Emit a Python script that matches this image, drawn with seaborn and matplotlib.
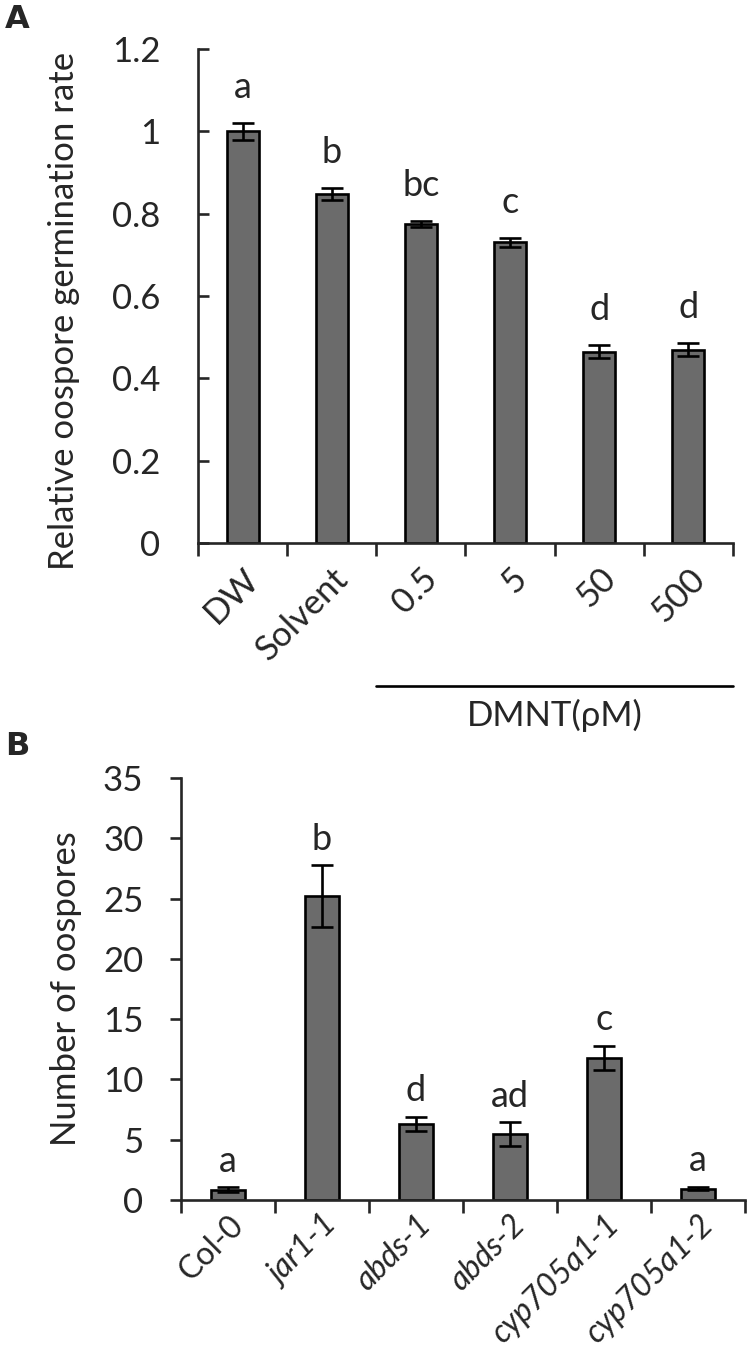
import numpy as np
import pandas as pd
import matplotlib.pyplot as plt
import matplotlib.transforms as mtrans
import seaborn as sns

sns.set_style("ticks")
plt.rcParams["font.family"] = ["Lato", "DejaVu Sans"]
plt.rcParams["axes.linewidth"] = 1.9

# ── Dados ────────────────────────────────────────────────────────────────────
# Painel A: taxa relativa de germinação dos oósporos
trat = ["DW", "Solvent", "0.5", "5", "50", "500"]
taxa = [1.0, 0.848, 0.775, 0.73, 0.465, 0.47]
erro_taxa = [0.021, 0.015, 0.008, 0.012, 0.016, 0.016]
letras_a = ["a", "b", "bc", "c", "d", "d"]

# Painel B: número de oósporos por linhagem
linhagens = ["Col-0", "jar1-1", "abds-1", "abds-2", "cyp705a1-1", "cyp705a1-2"]
oosporos = [0.85, 25.2, 6.3, 5.45, 11.8, 0.95]
erro_oos = [0.2, 2.55, 0.6, 1.0, 1.0, 0.15]
letras_b = ["a", "b", "d", "ad", "c", "a"]

COR_BARRA = "#6b6b6b"
FS = 25
LW = 1.9


def painel(ax, cats, vals, errs, letras, dy):
    df = pd.DataFrame({"cat": cats, "val": vals})
    sns.barplot(data=df, x="cat", y="val", color=COR_BARRA, width=0.36,
                edgecolor="black", linewidth=LW, saturation=1, ax=ax)
    xs = np.arange(len(cats))
    ax.errorbar(xs, vals, yerr=errs, fmt="none", ecolor="black",
                elinewidth=LW, capsize=8, capthick=LW, zorder=5)
    for x, v, e, l in zip(xs, vals, errs, letras):
        ax.text(x, v + e + dy, l, ha="center", va="bottom", fontsize=FS + 1)
    ax.set_xlim(-0.5, len(cats) - 0.5)
    ax.set_xlabel("")
    ax.set_xticks(xs)
    ax.set_xticks(np.arange(len(cats) + 1) - 0.5, minor=True)
    ax.tick_params(axis="x", which="minor", length=9, width=LW,
                   direction="out")
    ax.tick_params(axis="y", labelsize=FS, width=LW, length=8)
    sns.despine(ax=ax)


fig = plt.figure(figsize=(7.52, 13.64), dpi=100)

# ════════════════════════════════════════════════════════════════════════════
# Painel A
# ════════════════════════════════════════════════════════════════════════════
axA = fig.add_axes([198 / 752, 1 - 543 / 1364, 535 / 752, 494 / 1364])
painel(axA, trat, taxa, erro_taxa, letras_a, 0.045)
axA.set_ylim(0, 1.2)
axA.set_yticks([0, 0.2, 0.4, 0.6, 0.8, 1.0, 1.2])
axA.set_yticklabels(["0", "0.2", "0.4", "0.6", "0.8", "1", "1.2"])
axA.tick_params(axis="y", direction="in", pad=27)
axA.tick_params(axis="x", which="major", length=0, pad=14)
axA.set_xticklabels(trat, rotation=45, ha="right", rotation_mode="anchor",
                    fontsize=FS)
axA.set_ylabel("Relative oospore germination rate", fontsize=FS)
axA.yaxis.set_label_coords(-0.22, 0.47)

# linha e rótulo do DMNT
tr = mtrans.blended_transform_factory(axA.transData, axA.transAxes)
axA.plot([1.5, 5.5], [-0.289, -0.289], color="black", lw=LW,
         transform=tr, clip_on=False)
axA.text(3.5, -0.35, "DMNT(ρM)", transform=tr, ha="center", va="center",
         fontsize=FS)

# ════════════════════════════════════════════════════════════════════════════
# Painel B
# ════════════════════════════════════════════════════════════════════════════
axB = fig.add_axes([181 / 752, 1 - 1200 / 1364, 564 / 752, 422 / 1364])
painel(axB, linhagens, oosporos, erro_oos, letras_b, 0.8)
axB.set_ylim(0, 35)
axB.set_yticks(range(0, 36, 5))
axB.tick_params(axis="y", direction="out", pad=19)
axB.tick_params(axis="x", which="major", length=0, pad=7)
axB.set_xticklabels(linhagens, rotation=45, ha="right",
                    rotation_mode="anchor", fontsize=FS - 2)
for lab in axB.get_xticklabels()[1:]:
    lab.set_fontstyle("italic")
axB.set_ylabel("Number of oospores", fontsize=FS)
axB.yaxis.set_label_coords(-0.176, 0.5)

fig.text(5 / 752, 1 - 20 / 1364, "A", fontsize=23, fontweight="heavy",
         family="DejaVu Sans", va="center", ha="left")
fig.text(5 / 752, 1 - 747 / 1364, "B", fontsize=23, fontweight="heavy",
         family="DejaVu Sans", va="center", ha="left")

plt.savefig("out.png", dpi=100)
plt.close()
